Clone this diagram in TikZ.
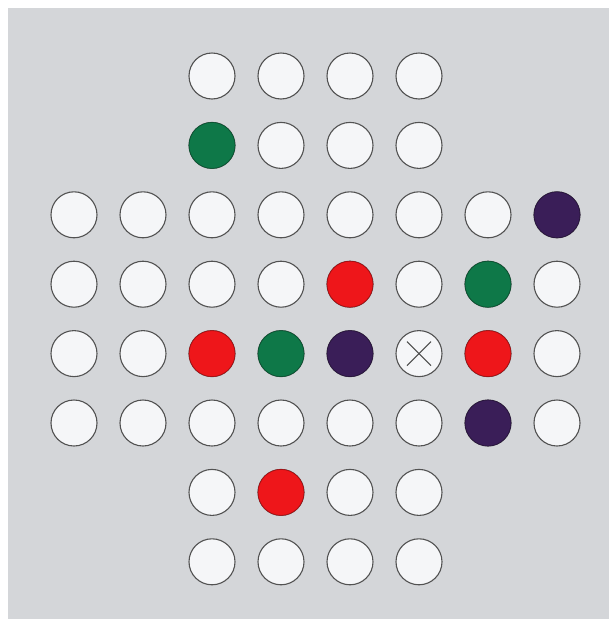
\documentclass[tikz,border=0pt]{standalone}
\definecolor{bg}{RGB}{212,214,217}
\definecolor{holew}{RGB}{245,246,248}
\definecolor{pred}{RGB}{238,22,26}
\definecolor{pgreen}{RGB}{14,120,72}
\definecolor{ppurple}{RGB}{58,30,88}
\tikzset{
  hole/.style={circle,draw=black!68,line width=1.1pt,fill=holew,minimum size=46pt,inner sep=0pt},
  peg/.style={circle,draw=#1!70!black,line width=0.7pt,fill=#1,minimum size=46pt,inner sep=0pt},
}
\begin{document}
\begin{tikzpicture}[x=1pt,y=-1pt]
\useasboundingbox (0,0) rectangle (609,619);
\fill[white] (0,0) rectangle (609,619);
\fill[bg] (8,8) rectangle (609,619);
% grid positions
\foreach \r in {1,...,8}{
  \foreach \c in {1,...,8}{
    \pgfmathtruncatemacro{\inside}{(\r>2 && \r<7) || (\c>2 && \c<7) ? 1 : 0}
    \ifnum\inside=1
      \node[hole] (h\r\c) at ({74+69*(\c-1)},{76+69.4*(\r-1)}) {};
    \fi
  }
}
% pegs
\node[peg=pgreen]  (g1) at (h23) {};
\node[peg=ppurple] (p1) at (h38) {};
\node[peg=pred]    (r1) at (h45) {};
\node[peg=pgreen]  (g2) at (h47) {};
\node[peg=pred]    (r2) at (h53) {};
\node[peg=pgreen]  (g3) at (h54) {};
\node[peg=ppurple] (p2) at (h55) {};
\node[peg=pred]    (r3) at (h57) {};
\node[peg=ppurple] (p3) at (h67) {};
\node[peg=pred]    (r4) at (h74) {};
% cross mark
\draw[black!70,line width=1.2pt] ([shift={(-12,-12)}]h56.center) -- ([shift={(12,12)}]h56.center);
\draw[black!70,line width=1.2pt] ([shift={(-12,12)}]h56.center) -- ([shift={(12,-12)}]h56.center);
\end{tikzpicture}
\end{document}
